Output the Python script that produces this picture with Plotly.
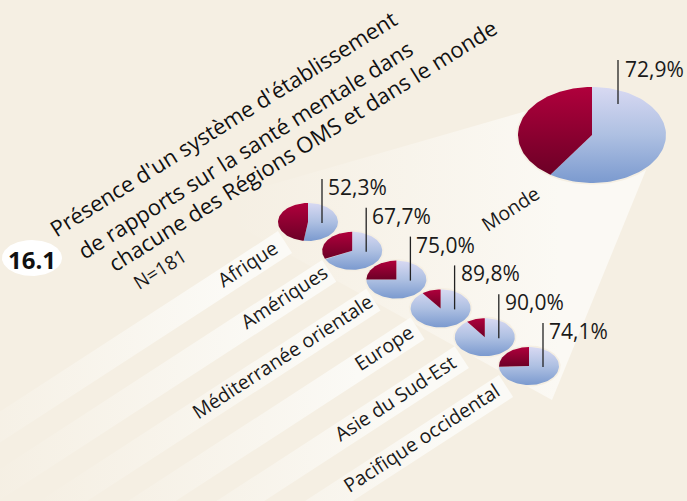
import numpy as np
import plotly.graph_objects as go

# ---------------- data ----------------
regions = ["Afrique", "Amériques", "Méditerranée orientale", "Europe",
           "Asie du Sud-Est", "Pacifique occidental"]
region_pct = [52.3, 67.7, 75.0, 89.8, 90.0, 74.1]
world_label = "Monde"
world_pct = 72.9
world_drawn_pct = 59.5   # blue share of the world pie as drawn in the source graphic
title_lines = ["Présence d'un système d'établissement",
               "de rapports sur la santé mentale dans",
               "chacune des Régions OMS et dans le monde"]
n_label = "N=181"
fig_number = "16.1"

# ---------------- style / layout ----------------
W, H = 687, 501
BG = "#f5efe3"
FONT = "Open Sans"
ANG = np.deg2rad(33)
U = np.array([np.cos(ANG), -np.sin(ANG)])      # text direction (up-right)
V = np.array([np.sin(ANG), np.cos(ANG)])       # perpendicular (down-right)

PIE0 = np.array([308.0, 222.0])
STEP = np.array([44.2, 28.8])
RX, RY = 30.0, 19.0
WORLD_C = np.array([592.0, 135.0])
WRX, WRY = 74.0, 48.0

# gradients: colorscale 0 is at the bottom of the shape on screen
BLUE = [[0, "#7b9acf"], [0.5, "#aec0e2"], [1, "#d8d9f2"]]
RED = [[0, "#6c0026"], [1, "#b0003c"]]


def fmt(p):
    return f"{p:.1f}".replace(".", ",") + "%"


def wedge(c, rx, ry, t0, t1, n=80):
    t = np.linspace(t0, t1, n)
    xs = np.concatenate([[c[0]], c[0] + rx * np.sin(t), [c[0]]])
    ys = np.concatenate([[c[1]], c[1] - ry * np.cos(t), [c[1]]])
    return xs, ys


def ellipse(c, rx, ry, n=120):
    t = np.linspace(0, 2 * np.pi, n)
    return c[0] + rx * np.sin(t), c[1] - ry * np.cos(t)


fig = go.Figure()


def poly(xs, ys, color=None, grad=None):
    kw = dict(x=list(xs) + [xs[0]], y=list(ys) + [ys[0]], mode="lines",
              fill="toself", line=dict(width=0, color="rgba(0,0,0,0)"),
              hoverinfo="skip", showlegend=False)
    if grad is not None:
        kw["fillgradient"] = grad
    else:
        kw["fillcolor"] = color
    fig.add_trace(go.Scatter(**kw))


# world beam
beam = np.array([[530, 110], [646, 170], [552, 400], [200, 205]], float)
poly(beam[:, 0], beam[:, 1], grad=dict(type="horizontal", start=230, stop=560,
     colorscale=[[0, "rgba(250,247,240,0)"], [1, "rgba(251,249,244,1)"]]))

# label strips
centers = [PIE0 + i * STEP for i in range(len(regions))]
HW, LEN = 13.0, 460.0
for c in centers:
    E = c + np.array([-23.0, 20.0])
    pts = np.array([E - HW * V, E + HW * V, E + HW * V - LEN * U, E - HW * V - LEN * U])
    poly(pts[:, 0], pts[:, 1], grad=dict(type="horizontal", start=E[0] - 340, stop=E[0] - 60,
         colorscale=[[0, "rgba(250,248,242,0)"], [1, "rgba(251,250,246,1)"]]))


def pie(c, rx, ry, pct):
    ex, ey = ellipse(c, rx + 1.6, ry + 1.6)
    poly(ex, ey, color=BG)
    split = 2 * np.pi * pct / 100.0
    bx, by = wedge(c, rx, ry, 0, split)
    poly(bx, by, grad=dict(type="vertical", colorscale=BLUE))
    rx_, ry_ = wedge(c, rx, ry, split, 2 * np.pi)
    poly(rx_, ry_, grad=dict(type="vertical", colorscale=RED))


for c, p in zip(centers, region_pct):
    pie(c, RX, RY, p)
pie(WORLD_C, WRX, WRY, world_drawn_pct)

# leader lines + value labels
VAL_FS = 21
ann = []
for c, p in zip(centers, region_pct):
    lx = c[0] + 14
    fig.add_trace(go.Scatter(x=[lx, lx], y=[c[1] + 1, c[1] - 43], mode="lines",
                             line=dict(color="#222", width=1.3), hoverinfo="skip", showlegend=False))
    ann.append(dict(x=lx + 4, y=c[1] - 35, text=fmt(p), xanchor="left", yanchor="middle",
                    font=dict(size=VAL_FS, color="#1a1a1a", family=FONT)))
lx = WORLD_C[0] + 26
fig.add_trace(go.Scatter(x=[lx, lx], y=[WORLD_C[1] - 31, WORLD_C[1] - 75], mode="lines",
                         line=dict(color="#222", width=1.3), hoverinfo="skip", showlegend=False))
ann.append(dict(x=lx + 5, y=WORLD_C[1] - 66, text=fmt(world_pct), xanchor="left", yanchor="middle",
                font=dict(size=VAL_FS, color="#1a1a1a", family=FONT)))

# region labels along strips
LAB_FS = 19.5
CW = 8.6
for c, name in zip(centers, regions):
    E = c + np.array([-23.0, 20.0])
    L = CW * len(name)
    pos = E - (13 + L / 2) * U - 2.5 * V
    ann.append(dict(x=pos[0], y=pos[1], text=name, textangle=-33, xanchor="center",
                    yanchor="middle", borderpad=0,
                    font=dict(size=LAB_FS, color="#1a1a1a", family=FONT)))
ann.append(dict(x=510, y=208, text=world_label, textangle=-33, xanchor="center",
                yanchor="middle", font=dict(size=LAB_FS, color="#1a1a1a", family=FONT)))

# title
title_pos = [(223, 123), (245, 149), (302, 145)]
for (x, y), t in zip(title_pos, title_lines):
    ann.append(dict(x=x, y=y, text=t, textangle=-32, xanchor="center", yanchor="middle",
                    font=dict(size=22, color="#111", family=FONT)))
ann.append(dict(x=160, y=269, text=n_label, textangle=-32, xanchor="center", yanchor="middle",
                font=dict(size=19, color="#1a1a1a", family=FONT)))

# figure number badge
bx, by = ellipse(np.array([32.0, 258.0]), 30, 18)
poly(bx, by, color="#ffffff")
ann.append(dict(x=32, y=259, text="<b>" + fig_number + "</b>", xanchor="center", yanchor="middle",
                font=dict(size=24, color="#111", family=FONT)))

for a in ann:
    a.update(xref="x", yref="y", showarrow=False)

fig.update_layout(
    width=W, height=H, margin=dict(l=0, r=0, t=0, b=0),
    paper_bgcolor=BG, plot_bgcolor=BG, annotations=ann, showlegend=False,
    xaxis=dict(range=[0, W], visible=False, fixedrange=True),
    yaxis=dict(range=[H, 0], visible=False, fixedrange=True),
)
fig.write_html("out.html", config={"displayModeBar": False},
               post_script="document.body.style.margin='0';")
